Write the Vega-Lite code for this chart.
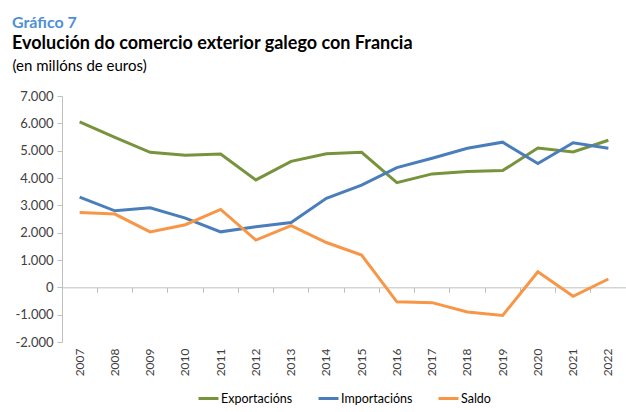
{
  "$schema": "https://vega.github.io/schema/vega-lite/v6.json",
  "width": 564,
  "height": 246,
  "autosize": {"type": "none"},
  "padding": {"left": 62, "top": 96, "right": 0, "bottom": 70},
  "background": "white",
  "config": {
    "font": "Lato",
    "locale": {"number": {"decimal": ",", "thousands": ".", "grouping": [3], "currency": ["", " €"], "minus": "-"}},
    "view": {"stroke": null},
    "axis": {"grid": false, "labelFont": "Lato", "labelColor": "#404040", "labelFontSize": 13, "domainColor": "#bfbfbf", "tickColor": "#bfbfbf"}
  },
  "title": {
    "text": "Gráfico 7",
    "subtitle": "Evolución do comercio exterior galego con Francia",
    "anchor": "start",
    "frame": "group",
    "dx": -50,
    "dy": 15,
    "color": "#4f8fd6",
    "fontSize": 16,
    "fontWeight": "bold",
    "font": "Lato",
    "subtitleFont": "Lato",
    "subtitleColor": "#000000",
    "subtitleFontSize": 18,
    "subtitleFontWeight": "bold",
    "subtitlePadding": 4,
    "offset": 20
  },
  "data": {"values": [
    {"Year": "2007", "Serie": "Exportacións", "Value": 6050},
    {"Year": "2008", "Serie": "Exportacións", "Value": 5490},
    {"Year": "2009", "Serie": "Exportacións", "Value": 4940},
    {"Year": "2010", "Serie": "Exportacións", "Value": 4830},
    {"Year": "2011", "Serie": "Exportacións", "Value": 4880},
    {"Year": "2012", "Serie": "Exportacións", "Value": 3930},
    {"Year": "2013", "Serie": "Exportacións", "Value": 4610},
    {"Year": "2014", "Serie": "Exportacións", "Value": 4890},
    {"Year": "2015", "Serie": "Exportacións", "Value": 4940},
    {"Year": "2016", "Serie": "Exportacións", "Value": 3830},
    {"Year": "2017", "Serie": "Exportacións", "Value": 4150},
    {"Year": "2018", "Serie": "Exportacións", "Value": 4235},
    {"Year": "2019", "Serie": "Exportacións", "Value": 4270},
    {"Year": "2020", "Serie": "Exportacións", "Value": 5100},
    {"Year": "2021", "Serie": "Exportacións", "Value": 4950},
    {"Year": "2022", "Serie": "Exportacións", "Value": 5380},
    {"Year": "2007", "Serie": "Importacións", "Value": 3300},
    {"Year": "2008", "Serie": "Importacións", "Value": 2800},
    {"Year": "2009", "Serie": "Importacións", "Value": 2910},
    {"Year": "2010", "Serie": "Importacións", "Value": 2530},
    {"Year": "2011", "Serie": "Importacións", "Value": 2030},
    {"Year": "2012", "Serie": "Importacións", "Value": 2215},
    {"Year": "2013", "Serie": "Importacións", "Value": 2370},
    {"Year": "2014", "Serie": "Importacións", "Value": 3260},
    {"Year": "2015", "Serie": "Importacións", "Value": 3740},
    {"Year": "2016", "Serie": "Importacións", "Value": 4380},
    {"Year": "2017", "Serie": "Importacións", "Value": 4720},
    {"Year": "2018", "Serie": "Importacións", "Value": 5090},
    {"Year": "2019", "Serie": "Importacións", "Value": 5310},
    {"Year": "2020", "Serie": "Importacións", "Value": 4530},
    {"Year": "2021", "Serie": "Importacións", "Value": 5290},
    {"Year": "2022", "Serie": "Importacións", "Value": 5090},
    {"Year": "2007", "Serie": "Saldo", "Value": 2740},
    {"Year": "2008", "Serie": "Saldo", "Value": 2680},
    {"Year": "2009", "Serie": "Saldo", "Value": 2030},
    {"Year": "2010", "Serie": "Saldo", "Value": 2290},
    {"Year": "2011", "Serie": "Saldo", "Value": 2850},
    {"Year": "2012", "Serie": "Saldo", "Value": 1730},
    {"Year": "2013", "Serie": "Saldo", "Value": 2260},
    {"Year": "2014", "Serie": "Saldo", "Value": 1640},
    {"Year": "2015", "Serie": "Saldo", "Value": 1180},
    {"Year": "2016", "Serie": "Saldo", "Value": -530},
    {"Year": "2017", "Serie": "Saldo", "Value": -560},
    {"Year": "2018", "Serie": "Saldo", "Value": -900},
    {"Year": "2019", "Serie": "Saldo", "Value": -1030},
    {"Year": "2020", "Serie": "Saldo", "Value": 570},
    {"Year": "2021", "Serie": "Saldo", "Value": -330},
    {"Year": "2022", "Serie": "Saldo", "Value": 305}
  ]},
  "encoding": {
    "y": {
      "field": "Value",
      "type": "quantitative",
      "scale": {"domain": [-2000, 7000], "nice": false, "zero": false},
      "axis": {
        "values": [-2000, -1000, 0, 1000, 2000, 3000, 4000, 5000, 6000, 7000],
        "format": ",.0f",
        "tickSize": 5,
        "labelPadding": 4,
        "title": "(en millóns de euros)",
        "titleAngle": 0,
        "titleAlign": "left",
        "titleBaseline": "alphabetic",
        "titleX": -50,
        "titleY": -26,
        "titleFont": "Lato",
        "titleFontSize": 15,
        "titleFontWeight": "normal",
        "titleColor": "#000000"
      }
    },
    "color": {
      "field": "Serie",
      "type": "nominal",
      "scale": {"domain": ["Exportacións", "Importacións", "Saldo"], "range": ["#77933c", "#4a7ebb", "#f79646"]},
      "legend": {
        "title": null,
        "orient": "none",
        "legendX": 135,
        "legendY": 291,
        "direction": "horizontal",
        "columns": 3,
        "symbolType": "stroke",
        "symbolSize": 400,
        "symbolStrokeWidth": 3,
        "labelFont": "Lato",
        "labelFontSize": 12.5,
        "labelColor": "#000000",
        "labelOffset": 1,
        "columnPadding": 19,
        "padding": 0
      }
    }
  },
  "layer": [
    {
      "transform": [{"filter": "datum.Serie !== 'Saldo'"}],
      "mark": {"type": "line", "strokeWidth": 3},
      "encoding": {
        "x": {
          "field": "Year",
          "type": "ordinal",
          "bandPosition": 0.5,
          "scale": {"type": "band", "paddingInner": 0, "paddingOuter": 0},
          "axis": {
            "orient": "top",
            "offset": -191.33,
            "labels": false,
            "title": null,
            "domain": true,
            "ticks": true,
            "tickSize": -5,
            "bandPosition": 0
          }
        }
      }
    },
    {
      "transform": [{"filter": "datum.Serie === 'Saldo'"}],
      "mark": {"type": "line", "strokeWidth": 3},
      "encoding": {
        "x": {
          "field": "Year",
          "type": "ordinal",
          "bandPosition": 0.5,
          "scale": {"type": "band", "paddingInner": 0, "paddingOuter": 0},
          "axis": {
            "orient": "bottom",
            "labels": true,
            "labelAngle": -90,
            "labelFontSize": 12,
            "labelPadding": 6,
            "title": null,
            "domain": false,
            "ticks": false,
            "bandPosition": 0.5
          }
        }
      }
    }
  ],
  "resolve": {"axis": {"x": "independent"}}
}
